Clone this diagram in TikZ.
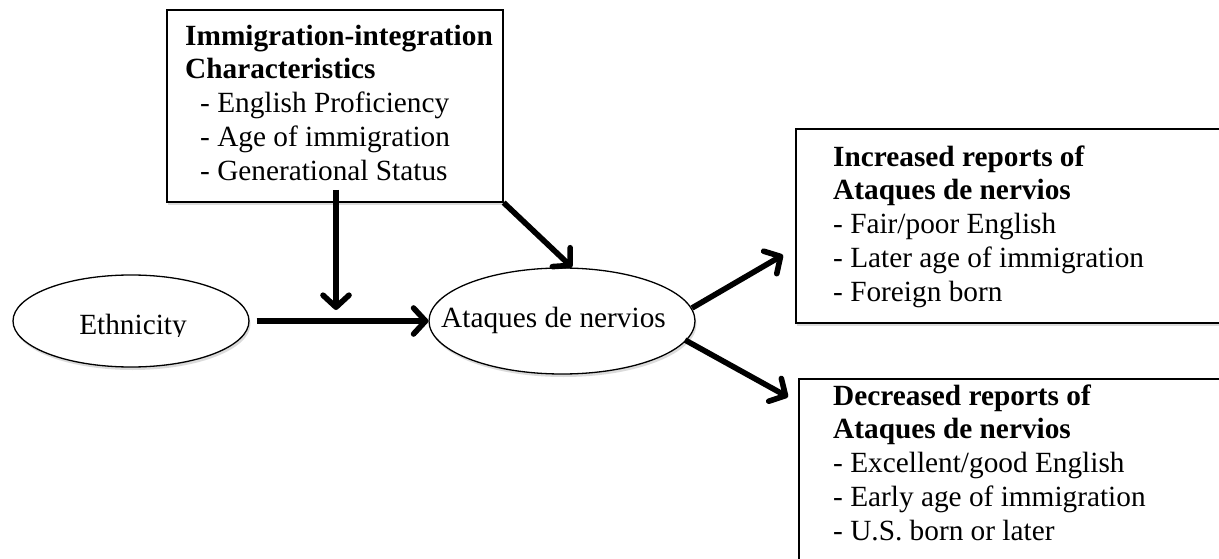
\documentclass[tikz,border=0pt]{standalone}
\usepackage{fontspec}
\setmainfont{Liberation Serif}
\usetikzlibrary{arrows.meta,shadows,shapes.geometric}
\begin{document}
\begin{tikzpicture}[x=1pt,y=-1pt,
  shad/.style={drop shadow={opacity=0.28,shadow xshift=1.5pt,shadow yshift=-3pt}},
  box/.style={draw,rectangle,line width=1.6pt,fill=white,inner sep=0pt,shad},
  oval/.style={draw,ellipse,line width=1.3pt,fill=white,inner sep=0pt,shad},
  txt/.style={inner sep=0pt,align=left,font=\fontsize{29.3}{33.75}\selectfont},
  arr/.style={line width=5.6pt,-{Straight Barb[length=12pt,width=26pt,round]}}]
\clip (0,0) rectangle (1219,559);
\fill[white] (0,0) rectangle (1219,559);
% boxes
\node[box,anchor=north west,minimum width=336pt,minimum height=192pt] (imm) at (166,9) {};
\node[box,anchor=north west,minimum width=500pt,minimum height=194pt] (inc) at (795,128) {};
\node[box,anchor=north west,minimum width=500pt,minimum height=260pt] (dec) at (798,378) {};
% ellipses
\node[oval,minimum width=236pt,minimum height=92pt] (eth) at (131,321) {};
\node[oval,minimum width=266pt,minimum height=106pt] (ata) at (562,321) {};
% texts
\node[txt,anchor=north west] (immtext) at (185,21.3) {\strut\textbf{Immigration-integration}\\\textbf{Characteristics}\\\hspace{15pt}- English Proficiency\\\hspace{15pt}- Age of immigration\\\hspace{15pt}- Generational Status};
\node[txt,anchor=north west] (inctext) at (833,142.3) {\strut\textbf{Increased reports of}\\\textbf{Ataques de nervios}\\- Fair/poor English\\- Later age of immigration\\- Foreign born};
\node[txt,anchor=north west] (dectext) at (833,381.3) {\strut\textbf{Decreased reports of}\\\textbf{Ataques de nervios}\\- Excellent/good English\\- Early age of immigration\\- U.S. born or later};
\begin{scope}
\clip (0,0) rectangle (300,336);
\node[txt,anchor=base] (ethtext) at (133,334) {Ethnicity};
\end{scope}
\node[txt,anchor=base] (atatext) at (553.5,327) {Ataques de nervios};
% connectors
\coordinate (v1) at (336,190);
\coordinate (v2) at (336,310);
\draw[arr] (v1) -- (v2);
\draw[arr] ([xshift=7pt]eth.east) -- (ata.west);
\draw[arr] (imm.south east) -- ([xshift=10pt]ata.north);
\coordinate (u1) at (692,308);
\coordinate (u2) at (783,255);
\draw[arr] (u1) -- (u2);
\coordinate (d1) at (685,340);
\coordinate (d2) at (788,397);
\draw[arr] (d1) -- (d2);
\end{tikzpicture}
\end{document}
